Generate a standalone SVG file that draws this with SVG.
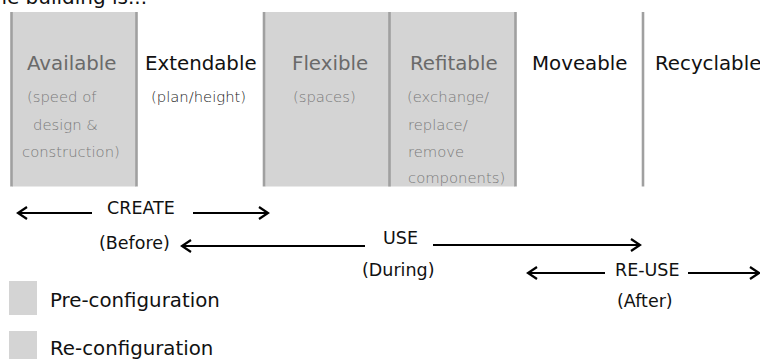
<svg xmlns="http://www.w3.org/2000/svg" width="760" height="359" viewBox="0 0 760 359">
<defs>
<style>
.head{font-family:"DejaVu Sans","Liberation Sans",sans-serif;font-size:19.8px}
.dark{fill:#111}
.grey{fill:#6a6a6a}
.sub{font-family:"DejaVu Sans","Liberation Sans",sans-serif;font-size:14.8px;font-weight:200}
.subg{fill:#7a7a7a}
.subd{fill:#222}
.lab{font-family:"DejaVu Sans","Liberation Sans",sans-serif;font-size:17.5px;fill:#111}
.leg{font-family:"DejaVu Sans","Liberation Sans",sans-serif;font-size:19.8px;fill:#111}
.box{fill:#d4d4d4}
.vl{stroke:#a0a0a0;stroke-width:2.6}
.arr{stroke:#000;stroke-width:2;fill:none;marker-end:url(#ah)}
</style>
<marker id="ah" markerUnits="userSpaceOnUse" markerWidth="14" markerHeight="14" refX="11" refY="7" orient="auto">
<path d="M2,1 L11,7 L2,13" fill="none" stroke="#000" stroke-width="2.2"/>
</marker>
</defs>
<rect width="760" height="359" fill="#fff"/>
<text id="title" class="head dark" x="-18" y="4" style="font-size:20px">The building is...</text>
<g id="available">
<rect class="box" x="12" y="12" width="124" height="174.5"/>
<line class="vl" x1="11.5" y1="12" x2="11.5" y2="186.5"/>
<line class="vl" x1="136.5" y1="12" x2="136.5" y2="186.5"/>
<text class="head grey" x="27" y="70">Available</text>
<text class="sub subg" x="27" y="102">(speed of</text>
<text class="sub subg" x="33" y="130">design &amp;</text>
<text class="sub subg" x="22" y="157">construction)</text>
</g>
<g id="extendable">
<text class="head dark" x="145" y="70">Extendable</text>
<text class="sub subd" x="151" y="102">(plan/height)</text>
</g>
<g id="flexible">
<rect class="box" x="265" y="12" width="124" height="174.5"/>
<line class="vl" x1="264" y1="12" x2="264" y2="186.5"/>
<text class="head grey" x="292" y="70">Flexible</text>
<text class="sub subg" x="293" y="102">(spaces)</text>
</g>
<g id="refitable">
<rect class="box" x="389" y="12" width="126" height="174.5"/>
<line class="vl" x1="389.5" y1="12" x2="389.5" y2="186.5"/>
<line class="vl" x1="515.5" y1="12" x2="515.5" y2="186.5"/>
<text class="head grey" x="410" y="70">Refitable</text>
<text class="sub subg" x="407" y="102">(exchange/</text>
<text class="sub subg" x="408" y="130">replace/</text>
<text class="sub subg" x="408" y="157">remove</text>
<text class="sub subg" x="408" y="183">components)</text>
</g>
<g id="moveable">
<text class="head dark" x="532" y="70">Moveable</text>
<line class="vl" x1="643" y1="12" x2="643" y2="186.5"/>
</g>
<g id="recyclable">
<text class="head dark" x="655" y="70">Recyclable</text>
</g>
<g id="connectors">
<line class="arr" x1="92" y1="213" x2="18" y2="213"/>
<line class="arr" x1="193" y1="213" x2="268" y2="213"/>
<line class="arr" x1="365" y1="246" x2="182" y2="246"/>
<line class="arr" x1="433" y1="245" x2="640" y2="245"/>
<line class="arr" x1="605" y1="273" x2="528" y2="273"/>
<line class="arr" x1="688" y1="273" x2="759" y2="273"/>
</g>
<g id="labels">
<text class="lab" x="107" y="214">CREATE</text>
<text class="lab" x="99" y="249">(Before)</text>
<text class="lab" x="383" y="244">USE</text>
<text class="lab" x="362" y="276">(During)</text>
<text class="lab" x="615" y="276">RE-USE</text>
<text class="lab" x="617" y="307">(After)</text>
</g>
<g id="legend-pre">
<rect class="box" x="9" y="281" width="28" height="34"/>
<text class="leg" x="50" y="307">Pre-configuration</text>
</g>
<g id="legend-re">
<rect class="box" x="9" y="331" width="28" height="34"/>
<text class="leg" x="50" y="355">Re-configuration</text>
</g>
</svg>
